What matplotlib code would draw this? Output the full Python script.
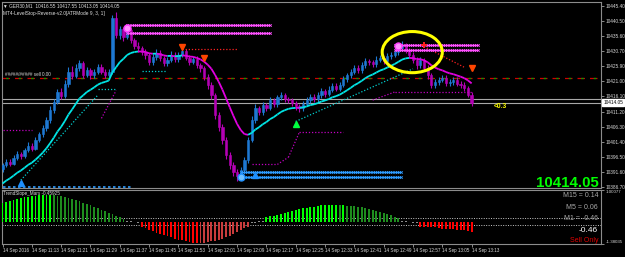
import matplotlib
matplotlib.use('Agg')
import matplotlib.pyplot as plt
import numpy as np
from matplotlib.patches import Ellipse
from matplotlib.collections import LineCollection
import matplotlib.transforms as mtransforms

plt.rcParams['font.family'] = ['Liberation Sans', 'DejaVu Sans']

# ---------------- data ----------------
first_open = 10392.5
closes = [
    10393.9, 10395.0, 10394.2, 10396.2, 10397.5, 10396.8, 10398.8, 10400.1, 10399.2, 10402.0,
    10403.8, 10405.9, 10408.4, 10411.7, 10414.2, 10417.5, 10416.3, 10420.1, 10424.0, 10422.6,
    10425.3, 10426.8, 10423.0, 10424.5, 10422.9, 10424.0, 10425.6, 10424.1, 10423.0, 10424.0,
    10441.5, 10436.0, 10437.8, 10435.2, 10437.5, 10434.3, 10432.5, 10431.7, 10430.6, 10429.5,
    10427.2, 10428.9, 10430.2, 10428.5, 10426.8, 10427.9, 10429.6, 10428.1, 10429.5, 10430.8,
    10428.6, 10427.2, 10428.3, 10426.1, 10425.3, 10422.4, 10419.8, 10416.5, 10410.1, 10406.3,
    10402.0, 10397.1, 10393.9, 10391.6, 10390.4, 10392.3, 10395.5, 10402.0, 10408.5, 10412.3,
    10411.0, 10413.3, 10412.4, 10414.9, 10413.6, 10415.8, 10416.5, 10415.2, 10414.9, 10413.8,
    10412.9, 10412.3, 10413.7, 10414.9, 10416.0, 10415.1, 10416.5, 10417.8, 10416.9, 10418.2,
    10419.5, 10418.6, 10419.8, 10421.7, 10422.9, 10424.0, 10425.2, 10424.5, 10426.2, 10427.5,
    10427.2, 10426.4, 10428.0, 10428.5, 10427.6, 10429.1, 10429.5, 10430.4, 10431.7, 10432.7,
    10431.0, 10429.5, 10428.0, 10426.2, 10427.9, 10425.4, 10423.0, 10419.8, 10420.6, 10421.4,
    10422.1, 10420.5, 10420.8, 10421.5, 10420.2, 10419.8, 10418.9, 10416.55, 10414.05]
highs = [
    10394.6, 10395.9, 10395.7, 10397.0, 10398.4, 10398.1, 10399.5, 10401.2, 10400.9, 10402.9,
    10404.7, 10406.8, 10409.5, 10413.0, 10415.3, 10418.6, 10418.9, 10421.4, 10425.5, 10425.8,
    10426.5, 10428.0, 10427.5, 10425.6, 10425.3, 10425.1, 10426.7, 10426.4, 10424.9, 10425.0,
    10442.5, 10443.5, 10438.9, 10438.5, 10438.6, 10438.2, 10435.0, 10433.6, 10432.4, 10431.5,
    10430.2, 10429.9, 10431.3, 10431.0, 10429.3, 10428.9, 10430.7, 10430.4, 10430.6, 10432.0,
    10431.5, 10429.4, 10429.2, 10429.0, 10427.0, 10426.0, 10423.2, 10420.7, 10417.3, 10411.2,
    10407.2, 10403.1, 10398.0, 10394.8, 10392.5, 10393.3, 10396.4, 10403.1, 10409.8, 10413.6,
    10413.1, 10414.4, 10414.1, 10415.8, 10415.7, 10416.7, 10417.6, 10417.3, 10416.0, 10415.6,
    10414.5, 10413.7, 10414.6, 10415.8, 10416.9, 10416.8, 10417.4, 10418.7, 10418.6, 10419.3,
    10420.4, 10420.3, 10420.9, 10422.6, 10423.8, 10425.1, 10426.3, 10426.1, 10427.1, 10428.6,
    10428.3, 10428.0, 10429.0, 10429.6, 10429.3, 10430.1, 10430.6, 10431.4, 10432.8, 10433.9,
    10433.5, 10431.8, 10430.3, 10428.9, 10428.8, 10428.6, 10426.1, 10423.8, 10421.6, 10422.5,
    10423.0, 10422.9, 10421.8, 10422.4, 10422.3, 10421.0, 10420.6, 10419.6, 10417.55]
lows = [
    10391.8, 10393.2, 10393.5, 10393.8, 10395.6, 10396.0, 10396.2, 10398.1, 10398.3, 10398.8,
    10401.3, 10403.1, 10405.0, 10407.6, 10410.8, 10413.5, 10415.2, 10415.6, 10419.0, 10421.7,
    10421.9, 10424.4, 10422.1, 10422.2, 10421.8, 10422.0, 10423.2, 10423.3, 10422.0, 10422.4,
    10423.2, 10435.1, 10434.8, 10434.0, 10434.5, 10433.2, 10431.4, 10430.5, 10429.6, 10428.3,
    10426.1, 10426.3, 10428.0, 10427.4, 10425.8, 10425.9, 10427.1, 10427.2, 10427.3, 10428.7,
    10427.7, 10426.2, 10426.4, 10425.2, 10424.1, 10421.3, 10418.6, 10415.2, 10408.9, 10404.8,
    10400.6, 10395.8, 10392.5, 10390.2, 10388.6, 10389.0, 10391.5, 10394.7, 10401.2, 10407.6,
    10410.0, 10410.1, 10411.3, 10411.6, 10412.7, 10412.8, 10415.0, 10414.3, 10413.9, 10412.9,
    10411.8, 10411.2, 10411.5, 10412.9, 10414.1, 10414.2, 10414.3, 10415.7, 10416.0, 10416.1,
    10417.4, 10417.7, 10417.9, 10419.0, 10420.8, 10422.0, 10423.2, 10423.6, 10423.7, 10425.4,
    10426.3, 10425.5, 10425.6, 10427.1, 10426.7, 10426.8, 10428.2, 10428.7, 10429.6, 10430.8,
    10430.1, 10428.4, 10427.0, 10425.1, 10425.3, 10424.3, 10421.8, 10418.7, 10418.9, 10419.7,
    10420.6, 10419.6, 10419.5, 10419.9, 10419.3, 10418.8, 10417.9, 10415.8, 10413.05]

trend_slope = [
    0.58, 0.62, 0.66, 0.69, 0.72, 0.74, 0.77, 0.79, 0.80, 0.82,
    0.83, 0.83, 0.84, 0.84, 0.83, 0.82, 0.80, 0.78, 0.75, 0.71,
    0.68, 0.64, 0.60, 0.56, 0.52, 0.48, 0.43, 0.38, 0.33, 0.28,
    0.24, 0.19, 0.14, 0.09, 0.03, 0.02, -0.02, -0.03, -0.16, -0.21,
    -0.26, -0.30, -0.34, -0.38, -0.42, -0.46, -0.49, -0.53, -0.56, -0.58,
    -0.61, -0.64, -0.66, -0.68, -0.67, -0.66, -0.65, -0.62, -0.60, -0.58,
    -0.54, -0.49, -0.44, -0.39, -0.33, -0.27, -0.21, -0.15, -0.04, -0.03,
    0.02, 0.03, 0.14, 0.17, 0.19, 0.21, 0.24, 0.27, 0.30, 0.33,
    0.36, 0.39, 0.42, 0.44, 0.46, 0.48, 0.50, 0.52, 0.52, 0.53,
    0.53, 0.53, 0.52, 0.52, 0.51, 0.50, 0.49, 0.47, 0.45, 0.43,
    0.40, 0.37, 0.34, 0.31, 0.27, 0.24, 0.20, 0.16, 0.12, 0.03,
    0.02, -0.02, -0.03, -0.03, -0.15, -0.16, -0.17, -0.18, -0.18, -0.20,
    -0.22, -0.23, -0.24, -0.24, -0.25, -0.26, -0.27, -0.29, -0.32]
slope_levels = [0.11, -0.11]

price_ticks = [10445.40, 10440.50, 10435.60, 10430.70, 10425.90, 10421.00, 10416.10,
               10411.20, 10406.30, 10401.40, 10396.50, 10391.60, 10386.70]
time_tick_bars = list(range(0, 129, 8))
time_labels = ['14 Sep 2016', '14 Sep 11:13', '14 Sep 11:21', '14 Sep 11:29', '14 Sep 11:37',
               '14 Sep 11:45', '14 Sep 11:53', '14 Sep 12:01', '14 Sep 12:09', '14 Sep 12:17',
               '14 Sep 12:25', '14 Sep 12:33', '14 Sep 12:41', '14 Sep 12:49', '14 Sep 12:57',
               '14 Sep 13:05', '14 Sep 13:13']

ma_period = 14
ma_seed = 10387.0
bid = 10414.05
ask = 10415.15
sell_level = 10422.0

# trailing-stop dotted segments (bar start, bar end), (price start, price end), kind
stop_bars = [(0, 8), (27, 31), (68, 75), (75, 78), (78, 81), (81, 93), (101, 107), (107, 128),
             (5, 26), (26, 31), (38, 45), (80, 112), (49, 64), (115, 126)]
stop_prices = [(10405.2, 10405.2), (10409.0, 10418.0), (10394.1, 10394.1), (10394.1, 10396.4),
               (10396.4, 10404.5), (10404.5, 10404.5), (10414.9, 10417.5), (10417.5, 10417.5),
               (10389.0, 10416.5), (10418.5, 10418.5), (10424.3, 10424.3), (10408.0, 10425.0),
               (10431.3, 10431.3), (10432.2, 10425.5)]
stop_kinds = ['upper'] * 8 + ['lower'] * 4 + ['signal'] * 2

# level bands
band_bars = [(34, 73), (107, 130), (65, 109)]
band_prices = [(10439.2, 10436.6), (10432.7, 10431.1), (10391.6, 10390.0)]
band_kinds = ['resistance', 'resistance', 'support']
bottom_dotted_bars = (0, 35)
bottom_dotted_price = 10386.9

# signals
sig_bars = [49, 55, 128, 80, 34, 108, 65, 5, 69, 115]
sig_prices = [10432.0, 10428.5, 10425.3, 10407.2, 10438.2, 10432.4, 10390.0, 10388.0, 10390.6, 10432.7]
sig_kinds = ['sell', 'sell', 'sell', 'buy', 'top', 'top', 'bottom', 'buy_blue', 'buy_blue', 'cross']

# highlight ellipse (centre bar, centre price, width bars, height price)
ellipse_spec = (111.8, 10430.4, 16.4, 13.3)

# --------------- figure ----------------
W, H = 625, 257
fig = plt.figure(figsize=(W / 100, H / 100), dpi=100, facecolor='black')

def fx(px):
    return px / W

def fy(py):
    return 1 - py / H

ax = fig.add_axes([fx(2), fy(188), fx(601) - fx(2), fy(2) - fy(188)], facecolor='black')
axi = fig.add_axes([fx(2), fy(244), fx(601) - fx(2), fy(190) - fy(244)], facecolor='black')

n = len(closes)
x = np.arange(n)
opens = [first_open] + closes[:-1]
o = np.array(opens)
c = np.array(closes)
h = np.maximum(np.array(highs), np.maximum(o, c))
l = np.minimum(np.array(lows), np.minimum(o, c))

bull_col = '#1E78D2'
bear_col = '#B400B4'
cols = [bull_col if cc >= oo else bear_col for oo, cc in zip(o, c)]
ax.vlines(x, l, h, colors=cols, linewidth=0.8, zorder=3)
body_h = np.where(np.abs(c - o) < 0.15, 0.15, c - o)
ax.bar(x, body_h, bottom=o, width=0.62, color=cols, edgecolor=cols, linewidth=0.4, zorder=4)

# EMA coloured by slope
alpha = 2 / (ma_period + 1)
ema = []
prev = ma_seed
for cc in closes:
    prev = prev + alpha * (cc - prev)
    ema.append(prev)
ema = np.array(ema)
segs = [[(x[i - 1], ema[i - 1]), (x[i], ema[i])] for i in range(1, n)]
seg_cols = ['#00E5E5' if ema[i] >= ema[i - 1] else '#E000E0' for i in range(1, n)]
ax.add_collection(LineCollection(segs, colors=seg_cols, linewidths=1.3, zorder=5))

# stops
kind_col = {'upper': '#C000C0', 'lower': '#00D0D0', 'signal': '#FF2020'}
for (b0, b1), (p0, p1), k in zip(stop_bars, stop_prices, stop_kinds):
    ax.plot([b0, b1], [p0, p1], color=kind_col[k], linestyle=(0, (1, 1.5)), linewidth=0.9, zorder=4)

# level line
ax.axhline(sell_level, color='#D00000', linewidth=0.9, linestyle=(0, (6, 4)), zorder=2)
ax.axhline(sell_level, color='#00A000', linewidth=0.9, linestyle=(7, (2, 8)), zorder=2)
ax.text(0.8, sell_level + 0.4, '#####/##### sell 0.00', color='#D8D8D8', fontsize=3.3, va='bottom', ha='left', zorder=6)

# bid/ask lines
ax.axhline(bid, color='#A8A8A8', linewidth=0.8, zorder=2)
ax.axhline(ask, color='#A8A8A8', linewidth=0.8, zorder=2)

# bands
band_col = {'resistance': '#FF50FF', 'support': '#2E9BFF'}
for (b0, b1), (p0, p1), k in zip(band_bars, band_prices, band_kinds):
    for p in (p0, p1):
        xs = np.arange(b0, b1 + 0.01, 0.6)
        ax.plot(xs, np.full_like(xs, p), color=band_col[k], linewidth=0.8, marker='x',
                markersize=1.8, markeredgewidth=0.6, zorder=5)
ax.plot(list(bottom_dotted_bars), [bottom_dotted_price] * 2, color='#2E9BFF', linewidth=1.2,
        linestyle=(0, (1.5, 1.5)), zorder=5)

# signals
sig_style = {
    'sell': dict(marker='v', color='#FF4500', markersize=4),
    'buy': dict(marker='^', color='#00FF40', markersize=4),
    'top': dict(marker='o', color='#FF40FF', markersize=5, markerfacecolor='#FF90FF'),
    'bottom': dict(marker='o', color='#1E90FF', markersize=5, markerfacecolor='#70C0FF'),
    'buy_blue': dict(marker='^', color='#1E90FF', markersize=4),
    'cross': dict(marker='+', color='#FF2020', markersize=4, markeredgewidth=1.4),
}
for b, p, k in zip(sig_bars, sig_prices, sig_kinds):
    ax.plot([b], [p], linestyle='none', zorder=7, **sig_style[k])

ex, ey, ew, eh = ellipse_spec
ax.add_patch(Ellipse((ex, ey), ew, eh, fill=False, edgecolor='#FFFF00', linewidth=2.2, zorder=8))

ax.text(134, 10412.8, '<0.3', color='#FFFF00', fontsize=4.8, fontweight='bold', ha='left', va='center', zorder=8)
ax.text(0.997, 0.006, '10414.05', transform=ax.transAxes, color='#00FF00', fontsize=10.8,
        fontweight='bold', ha='right', va='baseline', zorder=8)

xlim = (-0.14, 163.3)
ax.set_xlim(*xlim)
ax.set_ylim(10386.48, 10446.6)
ax.yaxis.tick_right()
ax.set_yticks(price_ticks)
ax.set_yticklabels(['%.2f' % v for v in price_ticks])
ax.tick_params(axis='y', colors='#A0A0A0', labelcolor='#D8D8D8', labelsize=3.4, length=2, width=0.6, pad=1.2)
ax.set_xticks([])
for s in ax.spines.values():
    s.set_color('#8C8C8C')
    s.set_linewidth(0.8)

# bid box on axis
trans = mtransforms.blended_transform_factory(ax.transAxes, ax.transData)
ax.text(1.004, bid, '%.2f' % bid, transform=trans, fontsize=3.4, color='black', ha='left', va='center',
        bbox=dict(boxstyle='square,pad=0.25', facecolor='white', edgecolor='white'), zorder=9, clip_on=False)

# header
fig.text(fx(3), fy(6), '\u25BC GER30,M1  10416.55 10417.55 10413.05 10414.05', color='#E0E0E0',
         fontsize=3.4, ha='left', va='center')
fig.text(fx(3), fy(13), 'MT4-LevelStop-Reverse-v2.0[ATRMode 9, 3, 1]', color='#E0E0E0',
         fontsize=3.4, ha='left', va='center')

# --------------- indicator panel ----------------
sl = np.array(trend_slope)
hist_cols = []
for i, v in enumerate(sl):
    prevv = sl[i - 1] if i > 0 else 0
    if abs(v) < 0.05:
        hist_cols.append('#8A8A8A')
    elif v > 0:
        hist_cols.append('#00FF00' if abs(v) >= abs(prevv) else '#1E8C1E')
    else:
        hist_cols.append('#FF0000' if abs(v) >= abs(prevv) else '#C83C3C')
axi.bar(x, sl, width=0.5, color=hist_cols, linewidth=0, zorder=3)
for lv in slope_levels:
    axi.axhline(lv, color='#C8C8C8', linewidth=0.7, linestyle=(0, (1, 1.5)), zorder=2)
axi.set_xlim(*xlim)
ind_ylim = (-0.70, 1.00)
axi.set_ylim(*ind_ylim)
axi.yaxis.tick_right()
axi.set_yticks(list(ind_ylim))
axi.set_yticklabels(['-1.38035', '1.00077'])
axi.tick_params(axis='y', colors='#A0A0A0', labelcolor='#D8D8D8', labelsize=3.2, length=2, width=0.6, pad=1.2)
ylabs = axi.get_yticklabels()
ylabs[0].set_va('bottom')
ylabs[1].set_va('top')
axi.set_xticks(time_tick_bars)
axi.set_xticklabels(time_labels, ha='left')
axi.tick_params(axis='x', colors='#A0A0A0', labelcolor='#D8D8D8', labelsize=3.3, length=2, width=0.6, pad=1.0)
for s in axi.spines.values():
    s.set_color('#8C8C8C')
    s.set_linewidth(0.8)

axi.text(0.002, 0.926, 'TrendSlope_Mars -0.45925', transform=axi.transAxes, color='#D8D8D8',
         fontsize=3.3, ha='left', va='center')
for txt, yy, col, fs in [('M15 = 0.14', 0.889, '#A8A8A8', 5), ('M5 = 0.06', 0.685, '#A8A8A8', 5),
                         ('M1 = -0.46', 0.463, '#A8A8A8', 5), ('-0.46', 0.259, '#FFFFFF', 6),
                         ('Sell Only', 0.056, '#E00000', 5)]:
    axi.text(0.995, yy, txt, transform=axi.transAxes, color=col, fontsize=fs, ha='right', va='center', zorder=6)

fig.savefig('out.png', dpi=100, facecolor='black')
